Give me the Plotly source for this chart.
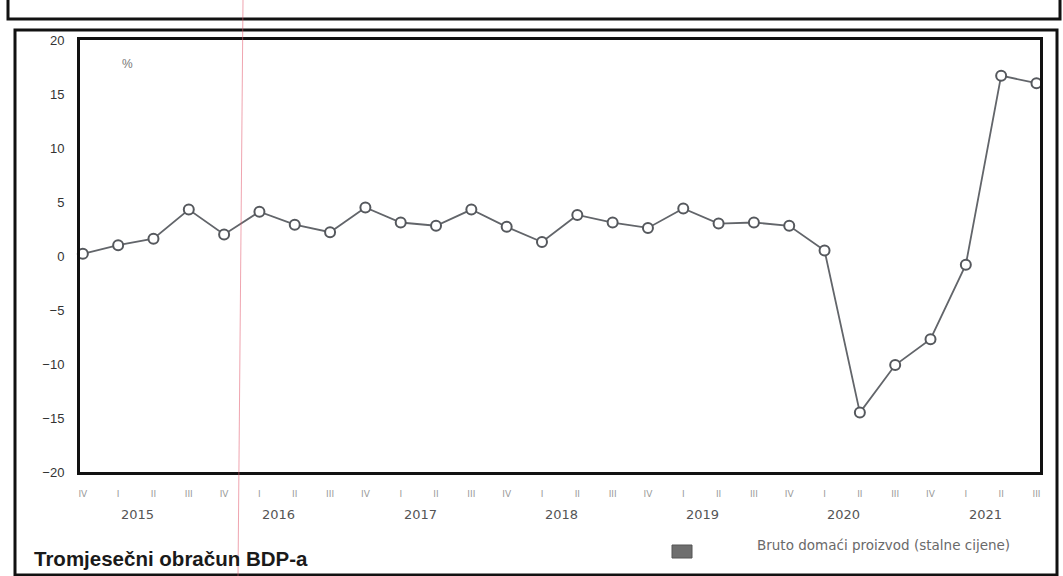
import plotly.graph_objects as go

# Quarterly real GDP growth, %, from 2014 Q4 to 2021 Q3
quarters = (["IV"] + ["I", "II", "III", "IV"] * 6 + ["I", "II", "III"])
gdp_growth = [0.2, 1.0, 1.6, 4.3, 2.0, 4.1, 2.9, 2.2, 4.5, 3.1, 2.8, 4.3,
              2.7, 1.3, 3.8, 3.1, 2.6, 4.4, 3.0, 3.1, 2.8, 0.5, -14.5, -10.1,
              -7.7, -0.8, 16.7, 16.0]
years = ["2015", "2016", "2017", "2018", "2019", "2020", "2021"]
y_ticks = [20, 15, 10, 5, 0, -5, -10, -15, -20]

W, H = 1063, 576
L, R, T, B = 80, 23, 40, 104
pw, ph = W - L - R, H - T - B


def px(x):
    return (x - L) / pw


def py(y):
    return (H - B - y) / ph


idx = list(range(len(gdp_growth)))

fig = go.Figure()
fig.add_trace(go.Scatter(
    x=idx, y=gdp_growth, mode="lines+markers",
    line=dict(color="#62656a", width=1.8),
    marker=dict(symbol="circle", size=10, color="white",
                line=dict(color="#55585d", width=2)),
    showlegend=False, cliponaxis=False,
))

# first quarter of each year in the series
first_q = [i for i, q in enumerate(quarters) if q == "I"]

annotations = []
for yr, i in zip(years, first_q):
    annotations.append(dict(x=i + 0.55, y=py(514), xref="x", yref="paper",
                            yanchor="middle", text=yr, showarrow=False,
                            font=dict(family="DejaVu Sans", size=13, color="#555")))
annotations += [
    dict(x=px(120), y=py(64), xref="paper", yref="paper", yanchor="middle",
         text="%", showarrow=False,
         font=dict(family="Liberation Sans", size=12, color="#777")),
    dict(x=px(32), y=py(558), xref="paper", yref="paper", xanchor="left",
         yanchor="middle", text="<b>Tromjesečni obračun BDP-a</b>", showarrow=False,
         font=dict(family="Liberation Sans", size=20.5, color="#1a1a1a")),
    dict(x=px(755), y=py(545), xref="paper", yref="paper", xanchor="left",
         yanchor="middle", text="Bruto domaći proizvod (stalne cijene)",
         showarrow=False,
         font=dict(family="DejaVu Sans", size=13.5, color="#6a6a6a")),
]

shapes = [
    # outer frame
    dict(type="rect", xref="paper", yref="paper",
         x0=px(15), x1=px(1057), y0=py(575), y1=py(30),
         line=dict(color="#111", width=3)),
    # panel above
    dict(type="rect", xref="paper", yref="paper",
         x0=px(8), x1=px(1060), y0=py(19), y1=py(-10),
         line=dict(color="#111", width=3)),
    # legend swatch
    dict(type="rect", xref="paper", yref="paper",
         x0=px(672), x1=px(692), y0=py(558), y1=py(545),
         fillcolor="#6e6e6e", line=dict(color="#555", width=1)),
    # red ruler line
    dict(type="line", xref="paper", yref="paper",
         x0=px(243), x1=px(238), y0=py(0), y1=py(576),
         line=dict(color="rgba(225,90,110,0.55)", width=1)),
]

fig.update_layout(
    width=W, height=H,
    margin=dict(l=L, r=R, t=T, b=B),
    paper_bgcolor="white", plot_bgcolor="white",
    annotations=annotations, shapes=shapes,
    xaxis=dict(range=[-0.08, 27.1], tickmode="array", tickvals=idx,
               ticktext=quarters, showgrid=False, zeroline=False,
               showline=True, linecolor="#111", linewidth=3, mirror=True,
               ticks="", ticklabelstandoff=11,
               tickfont=dict(family="DejaVu Sans", size=9, color="#999")),
    yaxis=dict(range=[-20, 20], tickmode="array", tickvals=y_ticks,
               showgrid=False, zeroline=False,
               showline=True, linecolor="#111", linewidth=3, mirror=True,
               ticks="", ticklabelstandoff=10,
               tickfont=dict(family="Liberation Sans", size=13, color="#333")),
)

fig.write_html("out.html")
